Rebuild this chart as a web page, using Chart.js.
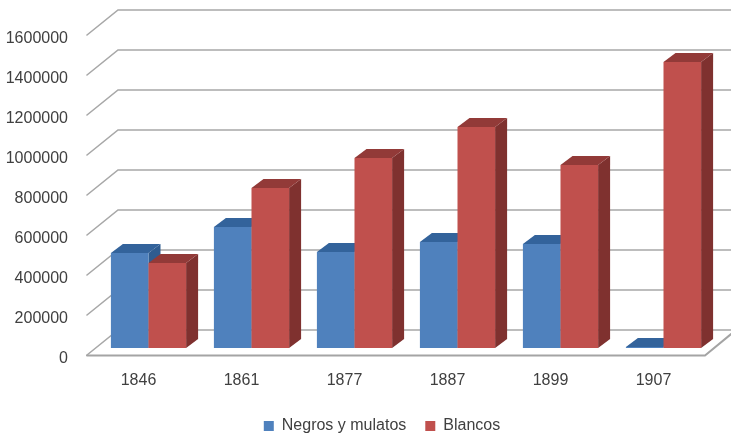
<!DOCTYPE html>
<html>
<head>
<meta charset="utf-8">
<style>html,body{margin:0;padding:0;background:#fff}#w{width:731px;height:434px}</style>
<script src="https://cdn.jsdelivr.net/npm/chart.js@4"></script>
</head>
<body>
<div id="w"><canvas id="c"></canvas></div>
<script>
const categories = ["1846","1861","1877","1887","1899","1907"];
const negrosYMulatos = [475000,605000,480000,530000,520000,5000];
const blancos = [425000,800000,950000,1105000,915000,1430000];

const FONT = "Liberation Sans";
const WALL_DX = 31, WALL_DY = 25;     // depth of the back wall
const BAR_DX = 10, BAR_DY = 7;        // bars stand inside the floor
const DEPTH_DX = 12, DEPTH_DY = 9;    // depth of each bar
const LEGEND_SHIFT_X = 29.5, LEGEND_SHIFT_Y = 10;
const faces = [
  {side:"#2f5c90", top:"#33639b"},
  {side:"#7f312f", top:"#923a38"}
];

function drawWall(chart){
  const {ctx, scales:{x,y}} = chart;
  const l = x.left, r = x.right;
  ctx.save();
  ctx.lineCap = "round";
  y.ticks.forEach(t=>{
    const p = y.getPixelForValue(t.value);
    ctx.strokeStyle = "#a8a8a8";
    ctx.lineWidth = 1.6;
    ctx.beginPath();
    ctx.moveTo(l,p);
    ctx.lineTo(l+WALL_DX,p-WALL_DY);
    ctx.lineTo(r+WALL_DX,p-WALL_DY);
    ctx.stroke();
  });
  const z = y.getPixelForValue(0);
  ctx.lineWidth = 2;
  ctx.strokeStyle = "#a4a4a4";
  ctx.beginPath();
  ctx.moveTo(l,z+0.5);
  ctx.lineTo(r,z+0.5);
  ctx.lineTo(r+WALL_DX,z-WALL_DY);
  ctx.stroke();
  ctx.restore();
}

function drawFaces(ctx,meta,f){
  meta.data.forEach(b=>{
    const p = b.getProps(["x","y","base","width"],true);
    const L = p.x-p.width/2, R = p.x+p.width/2;
    ctx.fillStyle = f.side;
    ctx.beginPath();
    ctx.moveTo(R,p.base);
    ctx.lineTo(R+DEPTH_DX,p.base-DEPTH_DY);
    ctx.lineTo(R+DEPTH_DX,p.y-DEPTH_DY);
    ctx.lineTo(R,p.y);
    ctx.closePath();
    ctx.fill();
    ctx.fillStyle = f.top;
    ctx.beginPath();
    ctx.moveTo(L,p.y);
    ctx.lineTo(L+DEPTH_DX,p.y-DEPTH_DY);
    ctx.lineTo(R+DEPTH_DX,p.y-DEPTH_DY);
    ctx.lineTo(R,p.y);
    ctx.closePath();
    ctx.fill();
  });
}

const wall3d = {
  id:"wall3d",
  afterLayout(chart){
    const lg = chart.legend;
    lg.left += LEGEND_SHIFT_X; lg.right += LEGEND_SHIFT_X;
    lg.top += LEGEND_SHIFT_Y; lg.bottom += LEGEND_SHIFT_Y;
  },
  beforeDatasetsDraw(chart){
    const ctx = chart.ctx;
    drawWall(chart);
    // each series sits over the series to its left, so draw left to right
    chart.getSortedVisibleDatasetMetas().forEach(meta=>{
      ctx.save();
      ctx.translate(BAR_DX,-BAR_DY);
      drawFaces(ctx,meta,faces[meta.index]);
      meta.controller.draw();
      ctx.restore();
    });
    return false;
  }
};

new Chart(document.getElementById("c"),{
  type:"bar",
  data:{
    labels:categories,
    datasets:[
      {label:"Negros y mulatos",data:negrosYMulatos,backgroundColor:"#4f81bd"},
      {label:"Blancos",data:blancos,backgroundColor:"#c0504d"}
    ]
  },
  options:{
    responsive:true,
    maintainAspectRatio:false,
    animation:false,
    devicePixelRatio:1,
    layout:{padding:{left:0,right:26,top:35,bottom:0}},
    datasets:{bar:{categoryPercentage:0.73,barPercentage:1}},
    plugins:{
      tooltip:{enabled:false},
      legend:{
        position:"bottom",
        labels:{boxWidth:10,boxHeight:10,padding:19,color:"#404040",font:{family:FONT,size:16}}
      }
    },
    scales:{
      x:{
        grid:{display:false,drawTicks:false},
        border:{display:false},
        ticks:{color:"#404040",padding:16,font:{family:FONT,size:16},maxRotation:0},
        afterFit(s){s.height=34;}
      },
      y:{
        min:0,max:1600000,
        grid:{display:false,drawTicks:false},
        border:{display:false},
        ticks:{stepSize:200000,color:"#404040",padding:19,labelOffset:4,font:{family:FONT,size:16},callback:v=>String(v)},
        afterFit(s){s.width=87;}
      }
    }
  },
  plugins:[wall3d]
});
</script>
</body>
</html>
